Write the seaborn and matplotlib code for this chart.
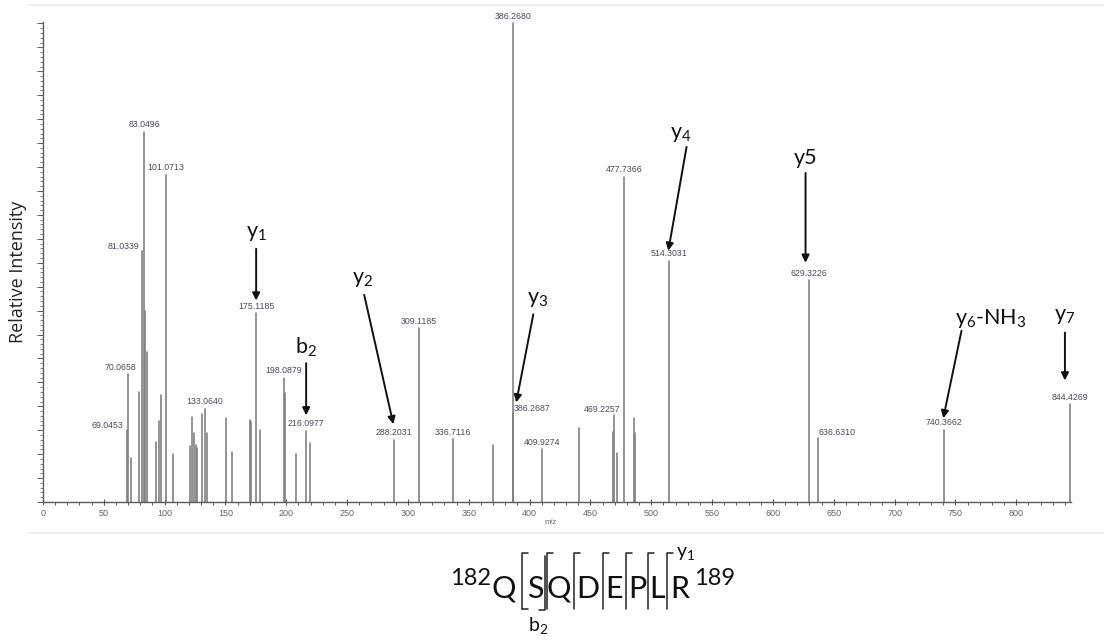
import numpy as np
import pandas as pd
import matplotlib
matplotlib.use("Agg")
import matplotlib.pyplot as plt
from matplotlib.lines import Line2D
from matplotlib.ticker import MultipleLocator
from matplotlib import font_manager
import seaborn as sns

# ---------------- data ----------------
# labelled peaks (m/z, relative intensity %)
labeled_mz = [69.0453, 70.0658, 81.0339, 83.0496, 101.0713, 133.0640, 175.1185,
              198.0879, 216.0977, 288.2031, 309.1185, 336.7116, 386.2680, 386.2687,
              409.9274, 469.2257, 477.7366, 514.3031, 629.3226, 636.6310, 740.3662,
              844.4269]
labeled_int = [15.0, 26.7, 52.5, 77.3, 68.3, 19.4, 39.4,
               26.0, 14.8, 12.9, 36.3, 13.1, 100.0, 18.5,
               11.0, 18.1, 67.9, 50.4, 46.3, 13.3, 15.0,
               20.4]
labeled_text = ["69.0453", "70.0658", "81.0339", "83.0496", "101.0713", "133.0640", "175.1185",
                "198.0879", "216.0977", "288.2031", "309.1185", "336.7116", "386.2680", "386.2687",
                "409.9274", "469.2257", "477.7366", "514.3031", "629.3226", "636.6310", "740.3662",
                "844.4269"]
# unlabelled peaks
other_mz = [72.0, 78.5, 84.2, 85.6, 93.0, 95.0, 97.2, 107.0, 120.5, 122.5, 124.5,
            125.5, 126.5, 130.5, 134.5, 150.5, 155.0, 170.0, 171.0, 178.5, 198.6,
            208.0, 219.6, 370.0, 440.5, 468.6, 471.5, 486.0, 486.8]
other_int = [9.2, 23.0, 40.0, 31.3, 12.5, 17.0, 22.4, 10.0, 11.7, 17.7, 14.4,
             12.0, 11.2, 18.3, 14.4, 17.6, 10.5, 17.1, 16.7, 15.0, 22.8,
             10.0, 12.4, 11.9, 15.5, 14.7, 10.3, 17.5, 14.4]

# fragment-ion annotations
ann_text = [r"$\mathrm{y_{1}}$", r"$\mathrm{b_{2}}$", r"$\mathrm{y_{2}}$", r"$\mathrm{y_{3}}$",
            r"$\mathrm{y_{4}}$", "y5", r"$\mathrm{y_{6}}$-NH$\mathrm{_{3}}$", r"$\mathrm{y_{7}}$"]
ann_text_xy = [(175.2, 56.3), (216.3, 32.3), (262.4, 46.7), (406.3, 42.5),
               (524.0, 76.9), (626.8, 71.9), (779.0, 38.3), (840.0, 38.8)]
ann_arrow_from = [(175.2, 52.9), (216.3, 29.0), (264.0, 43.3), (403.0, 39.2),
                  (529.0, 74.2), (626.8, 68.75), (755.0, 35.8), (840.0, 35.4)]
ann_arrow_to = [(175.2, 42.1), (216.3, 18.1), (288.0, 16.25), (389.0, 20.8),
                (514.0, 52.5), (626.8, 50.0), (740.0, 17.5), (840.0, 25.4)]

sequence = list("QSQDEPLR")
seq_start, seq_end = "182", "189"
xticks = list(range(0, 801, 50))

# ---------------- style ----------------
sns.set_theme(style="white")
plt.rcParams["font.family"] = ["Lato", "DejaVu Sans"]
plt.rcParams["mathtext.fontset"] = "custom"
plt.rcParams["mathtext.rm"] = "Lato"
plt.rcParams["mathtext.it"] = "Lato:italic"
plt.rcParams["mathtext.bf"] = "Lato:bold"

available = {f.name for f in font_manager.fontManager.ttflist}
if "Liberation Sans Narrow" in available:
    seq_family, seq_size = ["Liberation Sans Narrow", "Lato"], 27
else:
    seq_family, seq_size = ["Lato", "DejaVu Sans"], 22

W, H = 1104, 644
fig = plt.figure(figsize=(W / 100, H / 100), dpi=100)
fig.patch.set_facecolor("white")


def fx(x):
    return x / W


def fy(y):
    return 1 - y / H


ax = fig.add_axes([fx(43), fy(502), (1071 - 43) / W, (502 - 22) / H])
ax.set_facecolor("white")

# build stick data
all_mz = labeled_mz + other_mz
all_int = labeled_int + other_int
rows = []
for i, (m, v) in enumerate(zip(all_mz, all_int)):
    rows.append({"mz": m, "inten": 0.0, "pid": i})
    rows.append({"mz": m, "inten": v, "pid": i})
df = pd.DataFrame(rows)
sns.lineplot(data=df, x="mz", y="inten", units="pid", estimator=None, sort=False,
             color="#7c7c7c", lw=1.15, ax=ax, legend=False)

ax.set_xlim(0, 845)
ax.set_ylim(0, 100.3)
for s in ["top", "right"]:
    ax.spines[s].set_visible(False)
for s in ["left", "bottom"]:
    ax.spines[s].set_color("#5a5a5a")
    ax.spines[s].set_linewidth(1.0)

ax.set_xticks(xticks)
ax.set_xticklabels([str(t) for t in xticks])
ax.xaxis.set_minor_locator(MultipleLocator(10))
ax.yaxis.set_major_locator(MultipleLocator(5))
ax.yaxis.set_minor_locator(MultipleLocator(1))
ax.tick_params(axis="x", which="both", bottom=True)
ax.tick_params(axis="y", which="both", left=True)
ax.tick_params(axis="x", which="major", length=4, width=0.8, color="#5a5a5a",
               labelsize=6.5, labelcolor="#666666", pad=3, direction="inout")
ax.tick_params(axis="x", which="minor", length=2.5, width=0.7, color="#5a5a5a", direction="out")
ax.tick_params(axis="y", which="major", length=4, width=0.7, color="#5a5a5a",
               labelleft=False, direction="out")
ax.tick_params(axis="y", which="minor", length=2.5, width=0.6, color="#6a6a6a", direction="out")
for lab in ax.get_xticklabels():
    lab.set_fontfamily("Liberation Sans")
ax.set_xlabel("")
ax.set_ylabel("")

# peak labels: (ha, dx points, dy points)
label_style = {
    "69.0453": ("right", -2.5, 0.0),
    "70.0658": ("right", 6.0, 1.5),
    "81.0339": ("right", -1.5, 0.0),
    "386.2687": ("left", 0.5, 0.0),
    "636.6310": ("left", 0.5, 0.8),
    "469.2257": ("right", 4.5, 0.8),
}
for m, v, t in zip(labeled_mz, labeled_int, labeled_text):
    ha, dx, dy = label_style.get(t, ("center", 0.0, 2.0))
    ax.annotate(t, xy=(m, v), xytext=(dx, dy), textcoords="offset points",
                ha=ha, va="bottom", fontsize=6.3, color="#4b4b5a",
                family="Liberation Sans")

# fragment annotations
for t, txy, a0, a1 in zip(ann_text, ann_text_xy, ann_arrow_from, ann_arrow_to):
    ax.text(txy[0], txy[1], t, ha="center", va="center", fontsize=15.5, color="#111111")
    ax.annotate("", xy=a1, xytext=a0,
                arrowprops=dict(arrowstyle="-|>", color="#111111", lw=1.4,
                                mutation_scale=11, shrinkA=0, shrinkB=0))

# axis titles
fig.text(fx(551), fy(523), "m/z", fontsize=5.5, color="#666666", ha="center", va="center",
         family="Liberation Sans")
fig.text(fx(18), fy(272), "Relative Intensity", rotation=90, fontsize=13, color="#222222",
         ha="center", va="center", family="Open Sans")

# faint frame lines
fig.add_artist(Line2D([fx(28), 1], [fy(5), fy(5)], color="#e8eef5", lw=1.2))
fig.add_artist(Line2D([fx(28), 1], [fy(533), fy(533)], color="#eeeeee", lw=1.2))

# peptide sequence
letter_x = [504, 535, 559, 588, 614, 637, 657, 680]
for L, x in zip(sequence, letter_x):
    fig.text(fx(x), fy(598), L, fontsize=seq_size, ha="center", va="baseline",
             color="#111111", family=seq_family)
fig.text(fx(491), fy(585), seq_start, fontsize=17, ha="right", va="baseline", color="#111111")
fig.text(fx(694), fy(585), seq_end, fontsize=17, ha="left", va="baseline", color="#111111")

y_breaks = [522, 547, 574, 603, 626, 648, 667]
for xb in y_breaks:
    fig.add_artist(Line2D([fx(xb + 6), fx(xb), fx(xb)], [fy(553), fy(553), fy(609)],
                          color="#222222", lw=1.1))
fig.add_artist(Line2D([fx(522), fx(528)], [fy(609), fy(609)], color="#222222", lw=1.1))
fig.add_artist(Line2D([fx(545), fx(545), fx(539)], [fy(556), fy(610), fy(610)],
                      color="#222222", lw=1.1))
fig.text(fx(686), fy(554), r"$\mathrm{y_{1}}$", fontsize=14, ha="center", va="center", color="#111111")
fig.text(fx(538), fy(625), r"$\mathrm{b_{2}}$", fontsize=14, ha="center", va="center", color="#111111")

fig.savefig("out.png", dpi=100, facecolor="white")
